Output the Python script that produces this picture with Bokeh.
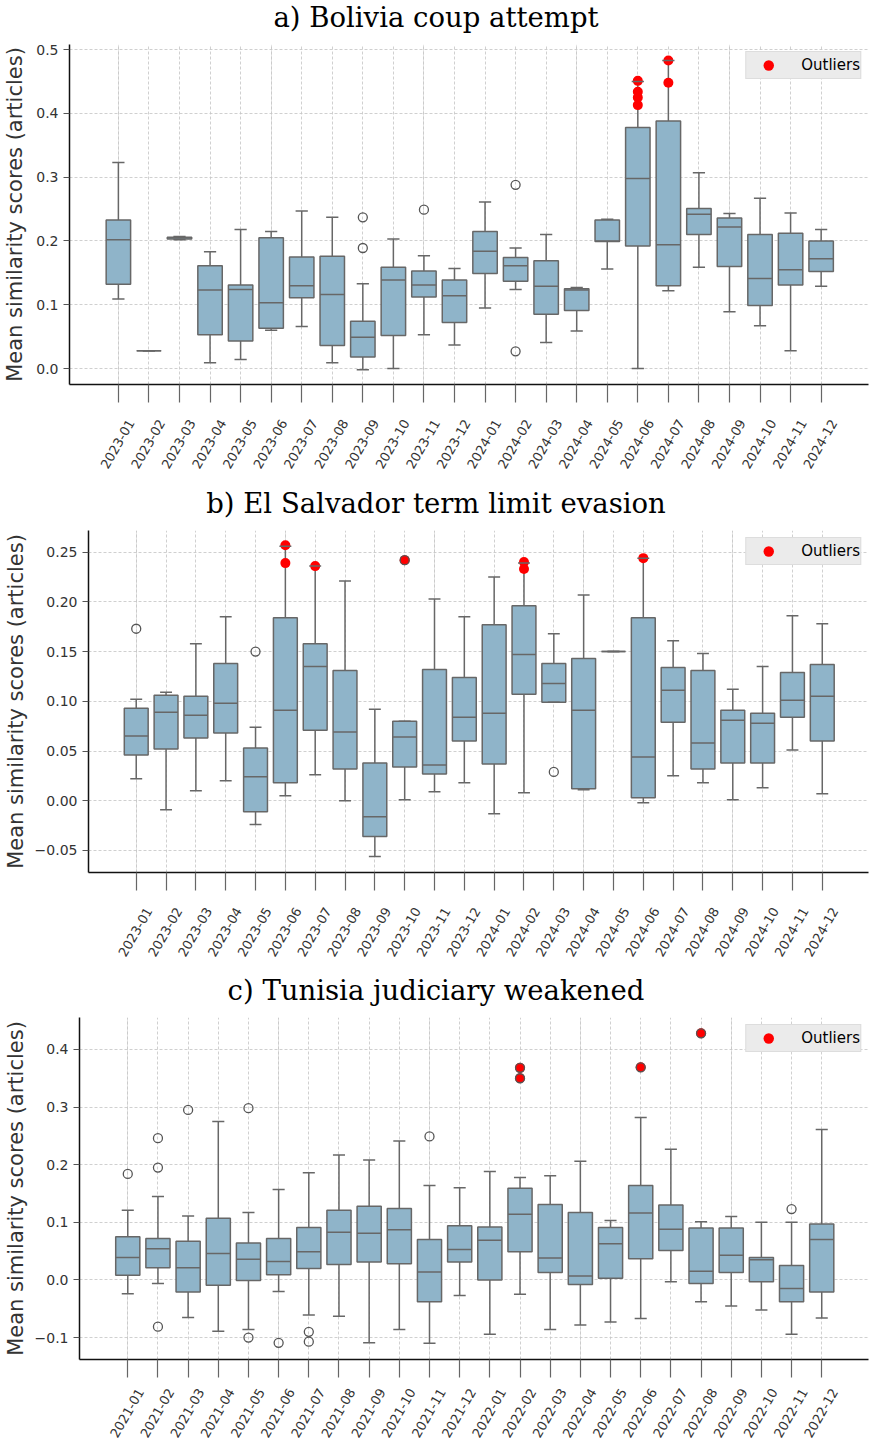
import math
from bokeh.plotting import figure
from bokeh.models import Range1d, LinearAxis, FixedTicker, Grid, ColumnDataSource, Label
from bokeh.embed import file_html
from bokeh.resources import INLINE

# ---------------- data ----------------
MONTHS_A = ["2023-01", "2023-02", "2023-03", "2023-04", "2023-05", "2023-06",
            "2023-07", "2023-08", "2023-09", "2023-10", "2023-11", "2023-12",
            "2024-01", "2024-02", "2024-03", "2024-04", "2024-05", "2024-06",
            "2024-07", "2024-08", "2024-09", "2024-10", "2024-11", "2024-12"]
A_LOW = [0.109, 0.028, 0.202, 0.009, 0.014, 0.060, 0.066, 0.009, -0.002, 0.000, 0.053, 0.037,
         0.095, 0.124, 0.041, 0.059, 0.156, 0.000, 0.122, 0.159, 0.089, 0.067, 0.028, 0.129]
A_Q1 = [0.132, 0.028, 0.203, 0.053, 0.043, 0.063, 0.111, 0.036, 0.018, 0.052, 0.112, 0.072,
        0.149, 0.137, 0.085, 0.091, 0.199, 0.192, 0.130, 0.210, 0.160, 0.099, 0.131, 0.152]
A_MED = [0.202, 0.028, 0.205, 0.123, 0.124, 0.103, 0.130, 0.116, 0.049, 0.139, 0.131, 0.114,
         0.184, 0.161, 0.129, 0.123, 0.200, 0.298, 0.194, 0.242, 0.222, 0.141, 0.155, 0.172]
A_Q3 = [0.233, 0.028, 0.206, 0.161, 0.131, 0.205, 0.175, 0.176, 0.074, 0.159, 0.153, 0.139,
        0.215, 0.174, 0.169, 0.125, 0.233, 0.378, 0.388, 0.251, 0.236, 0.210, 0.212, 0.200]
A_HIGH = [0.323, 0.028, 0.207, 0.183, 0.218, 0.215, 0.247, 0.237, 0.133, 0.203, 0.177, 0.157,
          0.261, 0.189, 0.210, 0.127, 0.234, 0.450, 0.483, 0.307, 0.243, 0.267, 0.244, 0.218]
A_FLIER_M = ["2023-09", "2023-09", "2023-11", "2024-02", "2024-02"]
A_FLIER_V = [0.237, 0.189, 0.249, 0.288, 0.027]
A_RED_M = ["2024-06", "2024-06", "2024-06", "2024-06", "2024-07", "2024-07"]
A_RED_V = [0.451, 0.434, 0.425, 0.413, 0.483, 0.448]
A_YTICKS = [0.0, 0.1, 0.2, 0.3, 0.4, 0.5]
A_YLABELS = ["0.0", "0.1", "0.2", "0.3", "0.4", "0.5"]

MONTHS_B = MONTHS_A
B_LOW = [0.022, -0.009, 0.010, 0.020, -0.024, 0.005, 0.026, 0.000, -0.056, 0.001, 0.009, 0.018,
         -0.013, 0.008, 0.099, 0.011, 0.150, -0.002, 0.025, 0.018, 0.001, 0.013, 0.051, 0.007]
B_Q1 = [0.046, 0.052, 0.063, 0.068, -0.011, 0.018, 0.071, 0.032, -0.036, 0.034, 0.027, 0.060,
        0.037, 0.107, 0.099, 0.012, 0.150, 0.003, 0.079, 0.032, 0.038, 0.038, 0.084, 0.060]
B_MED = [0.065, 0.089, 0.086, 0.098, 0.024, 0.091, 0.135, 0.069, -0.016, 0.064, 0.036, 0.084,
         0.088, 0.147, 0.118, 0.091, 0.150, 0.044, 0.111, 0.058, 0.081, 0.078, 0.101, 0.105]
B_Q3 = [0.093, 0.106, 0.105, 0.138, 0.053, 0.184, 0.158, 0.131, 0.038, 0.080, 0.132, 0.124,
        0.177, 0.196, 0.138, 0.143, 0.150, 0.184, 0.134, 0.131, 0.091, 0.088, 0.129, 0.137]
B_HIGH = [0.102, 0.109, 0.158, 0.185, 0.074, 0.256, 0.236, 0.221, 0.092, 0.080, 0.203, 0.185,
          0.225, 0.239, 0.168, 0.207, 0.150, 0.244, 0.161, 0.148, 0.112, 0.135, 0.186, 0.178]
B_FLIER_M = ["2023-01", "2023-05", "2023-10", "2024-03"]
B_FLIER_V = [0.173, 0.150, 0.242, 0.029]
B_RED_M = ["2023-06", "2023-06", "2023-07", "2023-10", "2024-02", "2024-02", "2024-06"]
B_RED_V = [0.257, 0.239, 0.236, 0.242, 0.240, 0.233, 0.244]
B_YTICKS = [-0.05, 0.0, 0.05, 0.10, 0.15, 0.20, 0.25]
B_YLABELS = ["\u22120.05", "0.00", "0.05", "0.10", "0.15", "0.20", "0.25"]

MONTHS_C = ["2021-01", "2021-02", "2021-03", "2021-04", "2021-05", "2021-06",
            "2021-07", "2021-08", "2021-09", "2021-10", "2021-11", "2021-12",
            "2022-01", "2022-02", "2022-03", "2022-04", "2022-05", "2022-06",
            "2022-07", "2022-08", "2022-09", "2022-10", "2022-11", "2022-12"]
C_LOW = [-0.024, -0.006, -0.065, -0.089, -0.086, -0.020, -0.061, -0.063, -0.109, -0.086, -0.110, -0.027,
         -0.094, -0.025, -0.086, -0.078, -0.073, -0.067, -0.003, -0.038, -0.045, -0.052, -0.094, -0.066]
C_Q1 = [0.008, 0.021, -0.021, -0.009, -0.001, 0.009, 0.020, 0.027, 0.031, 0.028, -0.038, 0.031,
        0.000, 0.049, 0.013, -0.008, 0.003, 0.037, 0.051, -0.006, 0.013, -0.003, -0.038, -0.021]
C_MED = [0.039, 0.054, 0.021, 0.046, 0.036, 0.032, 0.049, 0.083, 0.081, 0.087, 0.014, 0.053,
         0.069, 0.114, 0.038, 0.007, 0.063, 0.116, 0.088, 0.015, 0.043, 0.035, -0.015, 0.070]
C_Q3 = [0.075, 0.072, 0.067, 0.107, 0.064, 0.072, 0.091, 0.121, 0.128, 0.124, 0.070, 0.094,
        0.092, 0.159, 0.131, 0.117, 0.091, 0.164, 0.130, 0.090, 0.090, 0.039, 0.025, 0.097]
C_HIGH = [0.121, 0.145, 0.111, 0.275, 0.117, 0.157, 0.186, 0.217, 0.208, 0.241, 0.164, 0.160,
          0.188, 0.178, 0.181, 0.206, 0.103, 0.282, 0.227, 0.101, 0.110, 0.100, 0.100, 0.261]
C_FLIER_M = ["2021-01", "2021-02", "2021-02", "2021-02", "2021-03", "2021-05", "2021-05",
             "2021-06", "2021-07", "2021-07", "2021-11", "2022-02", "2022-02", "2022-06",
             "2022-08", "2022-11"]
C_FLIER_V = [0.184, 0.246, 0.195, -0.081, 0.295, 0.298, -0.100,
             -0.109, -0.090, -0.107, 0.249, 0.368, 0.350, 0.369,
             0.428, 0.123]
C_RED_M = ["2022-02", "2022-02", "2022-06", "2022-08"]
C_RED_V = [0.368, 0.350, 0.369, 0.428]
C_YTICKS = [-0.1, 0.0, 0.1, 0.2, 0.3, 0.4]
C_YLABELS = ["\u22120.1", "0.0", "0.1", "0.2", "0.3", "0.4"]

TITLES = ["a) Bolivia coup attempt",
          "b) El Salvador term limit evasion",
          "c) Tunisia judiciary weakened"]

# ---------------- style ----------------
BOX_FILL = "#8fb4c9"
EDGE = "#676767"
GRID = "#c4c4c4"
TXT = "#333333"
XR = (-1.6, 24.55)
PAGE_W = 871
TITLE_H = 36


def title_strip(text):
    t = figure(width=PAGE_W, height=TITLE_H, x_range=Range1d(0, PAGE_W),
               y_range=Range1d(0, TITLE_H), x_axis_location=None, y_axis_location=None,
               output_backend="svg", toolbar_location=None, title_location=None,
               min_border_left=0, min_border_right=0, min_border_top=0, min_border_bottom=0)
    t.outline_line_color = None
    t.grid.visible = False
    t.add_layout(Label(text=text, x=PAGE_W / 2, y=TITLE_H - 16,
                       text_align="center", text_baseline="middle",
                       text_font="DejaVu Serif", text_font_size="27.5px",
                       text_color="black"))
    return t


def panel(months, lo, q1, med, q3, hi, fm, fv, rm, rv, yr, yticks, ylabels,
          frame_left, height, top, bottom, label_shift, label_standoff, ylab_standoff):
    p = figure(width=PAGE_W, height=height, x_range=Range1d(*XR), y_range=Range1d(*yr),
               x_axis_location=None, output_backend="svg", toolbar_location=None,
               title_location=None,
               min_border_left=frame_left, min_border_right=3,
               min_border_top=top, min_border_bottom=bottom)
    p.outline_line_color = None
    p.background_fill_color = "white"

    # y axis
    ya = p.yaxis[0]
    ya.ticker = FixedTicker(ticks=yticks)
    ya.major_label_overrides = {t: s for t, s in zip(yticks, ylabels)}
    ya.axis_label = "Mean similarity scores (articles)"
    ya.axis_label_text_font = "DejaVu Sans"
    ya.axis_label_text_font_size = "21px"
    ya.axis_label_text_font_style = "normal"
    ya.axis_label_text_color = TXT
    ya.axis_label_standoff = ylab_standoff
    ya.major_label_text_font = "DejaVu Sans"
    ya.major_label_text_font_size = "14px"
    ya.major_label_text_color = TXT
    ya.major_label_standoff = 5
    ya.major_tick_out = 6
    ya.major_tick_in = 0
    ya.major_tick_line_color = "#555555"
    ya.minor_tick_line_color = None
    ya.axis_line_color = "#111111"
    ya.axis_line_width = 1.5

    p.ygrid.ticker = FixedTicker(ticks=yticks)
    p.ygrid.grid_line_color = GRID
    p.ygrid.grid_line_dash = "3 2"
    p.ygrid.grid_line_width = 0.8

    idx = list(range(len(months)))
    xg = Grid(dimension=0, ticker=FixedTicker(ticks=idx), grid_line_color=GRID,
              grid_line_dash="3 2", grid_line_width=0.8)
    p.add_layout(xg)

    # x axis: tick marks only (labels not drawn)
    xt = LinearAxis(ticker=FixedTicker(ticks=idx), major_label_text_font_size="1px",
                    major_label_text_color=None,
                    major_tick_out=18, major_tick_in=0, major_label_standoff=0,
                    major_tick_line_color="#666666", major_tick_line_width=1.2,
                    minor_tick_line_color=None, axis_line_color="#111111", axis_line_width=1.5)
    p.add_layout(xt, "below")
    # x axis: rotated month labels
    p.extra_x_ranges = {"lab": Range1d(XR[0] - label_shift, XR[1] - label_shift)}
    xl = LinearAxis(x_range_name="lab", ticker=FixedTicker(ticks=idx),
                    major_label_overrides={i: m for i, m in zip(idx, months)},
                    major_label_orientation=math.radians(60),
                    major_label_text_font="DejaVu Sans", major_label_text_font_size="13px",
                    major_label_text_color=TXT, major_label_standoff=label_standoff,
                    major_tick_out=0, major_tick_in=0, major_tick_line_color=None,
                    minor_tick_line_color=None, axis_line_color=None)
    p.add_layout(xl, "below")

    src = ColumnDataSource(dict(
        x=idx, lo=lo, q1=q1, med=med, q3=q3, hi=hi,
        xl=[i - 0.4 for i in idx], xr=[i + 0.4 for i in idx],
        cl=[i - 0.2 for i in idx], cr=[i + 0.2 for i in idx]))

    p.segment(x0="x", y0="q3", x1="x", y1="hi", source=src, line_color=EDGE, line_width=1.5)
    p.segment(x0="x", y0="q1", x1="x", y1="lo", source=src, line_color=EDGE, line_width=1.5)
    p.vbar(x="x", width=0.8, top="q3", bottom="q1", source=src,
           fill_color=BOX_FILL, line_color=EDGE, line_width=1.5)
    p.segment(x0="xl", y0="med", x1="xr", y1="med", source=src, line_color=EDGE, line_width=1.5)

    rx = [months.index(m) for m in rm]
    p.scatter(rx, rv, size=10, fill_color="red", line_color=None, legend_label="Outliers")

    p.segment(x0="cl", y0="hi", x1="cr", y1="hi", source=src, line_color=EDGE, line_width=1.5)
    p.segment(x0="cl", y0="lo", x1="cr", y1="lo", source=src, line_color=EDGE, line_width=1.5)

    fx = [months.index(m) for m in fm]
    p.scatter(fx, fv, size=9, fill_color=None, line_color="#555555", line_width=1.3)

    lg = p.legend[0]
    lg.location = "top_right"
    lg.margin = 7
    lg.padding = 0
    lg.spacing = 0
    lg.glyph_width = 44
    lg.glyph_height = 26
    lg.label_height = 26
    lg.label_standoff = 11
    lg.label_text_font = "DejaVu Sans"
    lg.label_text_font_size = "15px"
    lg.label_text_color = "black"
    lg.background_fill_color = "#ebebeb"
    lg.background_fill_alpha = 1.0
    lg.border_line_color = "#d0d0d0"
    lg.border_line_width = 1
    return p


ta = title_strip(TITLES[0])
pa = panel(MONTHS_A, A_LOW, A_Q1, A_MED, A_Q3, A_HIGH, A_FLIER_M, A_FLIER_V,
           A_RED_M, A_RED_V, (-0.025, 0.508), A_YTICKS, A_YLABELS,
           frame_left=66, height=486 - TITLE_H, top=44 - TITLE_H, bottom=102, label_shift=0.42,
           label_standoff=18, ylab_standoff=6)
tb = title_strip(TITLES[1])
pb = panel(MONTHS_B, B_LOW, B_Q1, B_MED, B_Q3, B_HIGH, B_FLIER_M, B_FLIER_V,
           B_RED_M, B_RED_V, (-0.0722, 0.2718), B_YTICKS, B_YLABELS,
           frame_left=88, height=487 - TITLE_H, top=44 - TITLE_H, bottom=101, label_shift=0.43,
           label_standoff=18, ylab_standoff=4)
tc = title_strip(TITLES[2])
pc = panel(MONTHS_C, C_LOW, C_Q1, C_MED, C_Q3, C_HIGH, C_FLIER_M, C_FLIER_V,
           C_RED_M, C_RED_V, (-0.138, 0.4554), C_YTICKS, C_YLABELS,
           frame_left=79, height=472 - TITLE_H, top=44 - TITLE_H, bottom=86, label_shift=0.43,
           label_standoff=12, ylab_standoff=4)

open("out.html", "w").write(file_html([ta, pa, tb, pb, tc, pc], INLINE))
